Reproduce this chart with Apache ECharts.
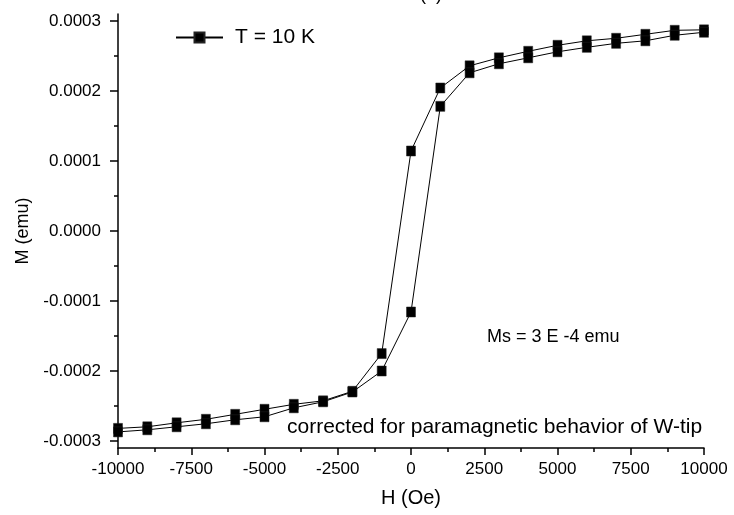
<!DOCTYPE html>
<html>
<head>
<meta charset="utf-8">
<script src="https://cdn.jsdelivr.net/npm/echarts@6/dist/echarts.min.js"></script>
<style>
  html, body { margin: 0; padding: 0; background: #fff; }
  #chart { width: 734px; height: 515px; }
</style>
</head>
<body>
<div id="chart"></div>
<script>
// Hysteresis loop at T = 10 K, field sweeps in Oe, moment in emu
const fieldDown = [10000, 9000, 8000, 7000, 6000, 5000, 4000, 3000, 2000, 1000, 0,
  -1000, -2000, -3000, -4000, -5000, -6000, -7000, -8000, -9000, -10000];
const momentDown = [0.0002874, 0.0002867, 0.0002810, 0.0002753, 0.0002717, 0.0002653,
  0.0002567, 0.0002474, 0.0002360, 0.0002043, 0.0001143,
  -0.0001751, -0.0002290, -0.0002426, -0.0002476, -0.0002547, -0.0002619,
  -0.0002690, -0.0002740, -0.0002797, -0.0002820];

const fieldUp = [-10000, -9000, -8000, -7000, -6000, -5000, -4000, -3000, -2000, -1000, 0,
  1000, 2000, 3000, 4000, 5000, 6000, 7000, 8000, 9000, 10000];
const momentUp = [-0.0002870, -0.0002840, -0.0002797, -0.0002754, -0.0002697, -0.0002654,
  -0.0002526, -0.0002440, -0.0002300, -0.0002000, -0.0001157,
  0.0001781, 0.0002260, 0.0002389, 0.0002474, 0.0002560, 0.0002624,
  0.0002681, 0.0002717, 0.0002796, 0.0002839];

const yTickValues = [-0.0003, -0.0002, -0.0001, 0, 0.0001, 0.0002, 0.0003];
const yMinorTickValues = [-0.00025, -0.00015, -0.00005, 0.00005, 0.00015, 0.00025];

const seriesName = 'T = 10 K';
const noteSaturation = 'Ms = 3 E -4 emu';
const noteCorrection = 'corrected for paramagnetic behavior of W-tip';

const loopData = fieldDown.map((h, i) => [h, momentDown[i]])
  .concat(fieldUp.map((h, i) => [h, momentUp[i]]));

const FONT = '"Liberation Sans", Arial, Helvetica, sans-serif';
const black = '#000';

const chart = echarts.init(document.getElementById('chart'), null, { renderer: 'canvas' });

chart.setOption({
  animation: false,
  backgroundColor: '#fff',
  textStyle: { fontFamily: FONT, color: black },
  title: {
    text: '(a)',
    left: 415,
    top: -19,
    textStyle: { fontFamily: FONT, fontSize: 18, fontWeight: 'normal', color: black }
  },
  grid: { left: 118, right: 30, top: 14, bottom: 67, containLabel: false },
  legend: {
    show: true,
    left: 175,
    top: 27,
    padding: 0,
    itemWidth: 47,
    itemHeight: 12.5,
    data: [seriesName],
    textStyle: { fontFamily: FONT, fontSize: 21, color: black, padding: [0, 0, 0, 7] }
  },
  xAxis: {
    type: 'value',
    min: -10000,
    max: 10000,
    interval: 2500,
    name: 'H (Oe)',
    nameLocation: 'middle',
    nameGap: 40,
    nameTextStyle: { fontFamily: FONT, fontSize: 20, color: black },
    axisLine: { show: true, onZero: false, lineStyle: { color: black, width: 1.5 } },
    axisTick: { show: true, inside: false, length: 7, lineStyle: { color: black, width: 1.5 } },
    minorTick: { show: true, splitNumber: 2, length: 4, lineStyle: { color: black, width: 1.5 } },
    axisLabel: { margin: 13, fontFamily: FONT, fontSize: 17, color: black,
      formatter: v => String(v) },
    splitLine: { show: false }
  },
  yAxis: [{
    type: 'value',
    min: -0.00031,
    max: 0.00031,
    name: 'M (emu)',
    nameLocation: 'middle',
    nameGap: 85,
    nameTextStyle: { fontFamily: FONT, fontSize: 18, color: black },
    axisLine: { show: true, onZero: false, lineStyle: { color: black, width: 1.5 } },
    axisTick: { show: true, inside: false, length: 8, customValues: yTickValues,
      lineStyle: { color: black, width: 1.5 } },
    axisLabel: { customValues: yTickValues, margin: 17, fontFamily: FONT, fontSize: 17,
      color: black, formatter: v => v.toFixed(4) },
    splitLine: { show: false }
  }, {
    // minor ticks between the labelled values
    type: 'value',
    position: 'left',
    min: -0.00031,
    max: 0.00031,
    axisLine: { show: false, onZero: false },
    axisTick: { show: true, inside: false, length: 4, customValues: yMinorTickValues,
      lineStyle: { color: black, width: 1.5 } },
    axisLabel: { show: false },
    splitLine: { show: false }
  }],
  series: [{
    name: seriesName,
    type: 'line',
    xAxisIndex: 0,
    yAxisIndex: 0,
    data: loopData,
    clip: false,
    symbol: 'rect',
    symbolSize: [9, 10],
    showAllSymbol: true,
    itemStyle: { color: black, borderColor: '#222', borderWidth: 0.5 },
    lineStyle: { color: black, width: 1 },
    emphasis: { disabled: true }
  }],
  graphic: [{
    type: 'text',
    left: 487,
    top: 328,
    style: { text: noteSaturation, font: '18px ' + FONT, fill: black }
  }, {
    type: 'text',
    left: 287,
    top: 417,
    style: { text: noteCorrection, font: '21px ' + FONT, fill: black }
  }]
});
</script>
</body>
</html>
